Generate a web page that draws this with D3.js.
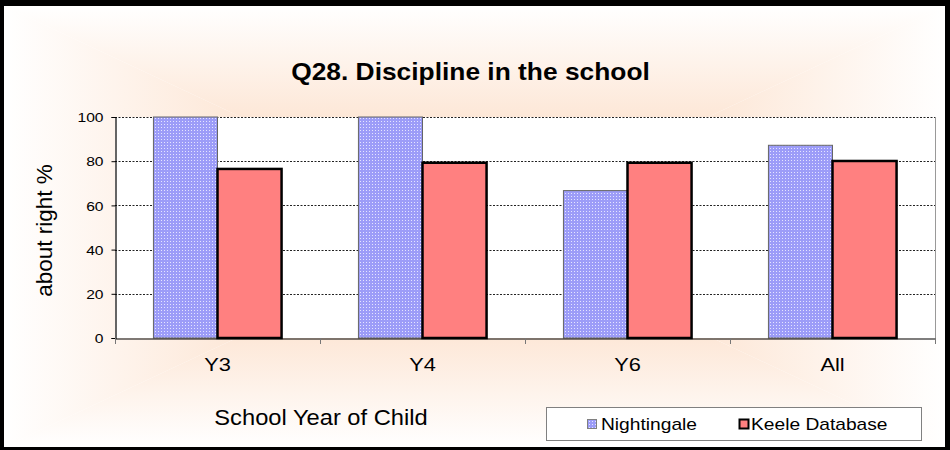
<!DOCTYPE html>
<html>
<head>
<meta charset="utf-8">
<script src="https://cdn.jsdelivr.net/npm/d3@7"></script>
<style>
  html, body { margin: 0; padding: 0; background: #fff; }
  svg { display: block; }
  text { font-family: Arial, "Liberation Sans", sans-serif; fill: #000; }
</style>
</head>
<body>
<script>
const categories = ["Y3", "Y4", "Y6", "All"];
const seriesNames = ["Nightingale", "Keele Database"];
const nightingale = [100, 100, 66.7, 87.2];
const keele = [76.5, 79.3, 79.3, 80.1];
const yTicks = [0, 20, 40, 60, 80, 100];
const titleText = "Q28. Discipline in the school";
const xTitle = "School Year of Child";
const yTitle = "about right %";

(function () {
const W = 950, H = 450;
const svg = d3.select("body").append("svg").attr("width", W).attr("height", H);
const defs = svg.append("defs");

// dotted pattern for Nightingale
const pat = defs.append("pattern").attr("id", "dots").attr("patternUnits", "userSpaceOnUse")
  .attr("width", 3).attr("height", 3);
pat.append("rect").attr("width", 3).attr("height", 3).attr("fill", "#9c9cf8");
pat.append("rect").attr("x", 1).attr("y", 1).attr("width", 1).attr("height", 1).attr("fill", "#e4e4ff");

// frame
svg.append("rect").attr("width", W).attr("height", H).attr("fill", "#000");
const cx0 = 4, cy0 = 6, cx1 = 945, cy1 = 447;
const mx = (cx0 + cx1) / 2, my = (cy0 + cy1) / 2;
svg.append("rect").attr("x", cx0).attr("y", cy0).attr("width", cx1 - cx0).attr("height", cy1 - cy0).attr("fill", "#fff");

// rectangular "from centre" gradient built from four triangles
const centerCol = "#fbd0b0";
const sides = [
  {id: "gT", pts: [[cx0, cy0], [cx1, cy0], [mx, my]], g: [0, 0, 0, 1]},
  {id: "gB", pts: [[cx0, cy1], [cx1, cy1], [mx, my]], g: [0, 1, 0, 0]},
  {id: "gL", pts: [[cx0, cy0], [cx0, cy1], [mx, my]], g: [0, 0, 1, 0]},
  {id: "gR", pts: [[cx1, cy0], [cx1, cy1], [mx, my]], g: [1, 0, 0, 0]}
];
sides.forEach(s => {
  const lg = defs.append("linearGradient").attr("id", s.id)
    .attr("x1", s.g[0]).attr("y1", s.g[1]).attr("x2", s.g[2]).attr("y2", s.g[3]);
  lg.append("stop").attr("offset", 0).attr("stop-color", "#ffffff");
  lg.append("stop").attr("offset", 1).attr("stop-color", centerCol);
  svg.append("path").attr("d", "M" + s.pts.map(p => p.join(",")).join("L") + "Z")
    .attr("fill", `url(#${s.id})`).attr("stroke", "none");
});

// scales
const pl = 115, pr = 935, pt = 117, pb = 338;
const x = d3.scaleBand().domain(categories).range([pl, pr]).paddingInner(0).paddingOuter(0);
const x1 = d3.scaleBand().domain(seriesNames).range([0, x.bandwidth()]).paddingInner(0).paddingOuter(0.6);
const y = d3.scaleLinear().domain([0, 100]).range([pb, pt]);

// plot area
svg.append("rect").attr("x", pl).attr("y", pt).attr("width", pr - pl).attr("height", pb - pt).attr("fill", "#fff");

// gridlines
svg.append("g").selectAll("line").data(yTicks.filter(d => d > 0)).join("line")
  .attr("x1", pl).attr("x2", pr)
  .attr("y1", d => Math.round(y(d)) + 0.5).attr("y2", d => Math.round(y(d)) + 0.5)
  .attr("stroke", "#222").attr("stroke-width", 1).attr("stroke-dasharray", "2,1.5");

// right border of plot
svg.append("line").attr("x1", pr + 0.5).attr("x2", pr + 0.5).attr("y1", pt).attr("y2", pb)
  .attr("stroke", "#999").attr("stroke-width", 1);

// bars
const data = categories.map((c, i) => ({c, vals: [nightingale[i], keele[i]]}));
const grp = svg.append("g").selectAll("g").data(data).join("g")
  .attr("transform", d => `translate(${x(d.c)},0)`);
grp.append("rect")
  .attr("x", x1("Nightingale")).attr("width", x1.bandwidth())
  .attr("y", d => y(d.vals[0])).attr("height", d => y(0) - y(d.vals[0]))
  .attr("fill", "url(#dots)").attr("stroke", "#666").attr("stroke-width", 1);
grp.append("rect")
  .attr("x", x1("Keele Database")).attr("width", x1.bandwidth())
  .attr("y", d => y(d.vals[1])).attr("height", d => y(0) - y(d.vals[1]))
  .attr("fill", "#ff8080").attr("stroke", "#000").attr("stroke-width", 2.5);

// y axis
const yAxis = d3.axisLeft(y).tickValues(yTicks).tickSize(4).tickPadding(0).tickFormat(d3.format("d"));
const yg = svg.append("g").attr("transform", `translate(${pl + 0.5},0)`).call(yAxis);
yg.select(".domain").attr("stroke", "#000").attr("stroke-width", 1.2);
yg.selectAll(".tick line").attr("stroke", "#000");
yg.selectAll(".tick text").remove();
yg.selectAll(".tick").append("text")
  .attr("text-anchor", "end").attr("dy", "0.36em")
  .attr("transform", "translate(-12,0) scale(1.2,1)")
  .style("font-size", "13px").text(d => d);

// x axis
const xAxis = d3.axisBottom(x).tickSize(0).tickPadding(0);
const xg = svg.append("g").attr("transform", `translate(0,${pb + 0.5})`).call(xAxis);
xg.select(".domain").attr("stroke", "#000").attr("stroke-width", 1.2);
xg.selectAll(".tick text").remove();
xg.selectAll(".tick").append("text")
  .attr("text-anchor", "middle")
  .attr("transform", "translate(0,32.5) scale(1.18,1)")
  .style("font-size", "18.5px").text(d => d);
// category boundary tick marks
const bounds = categories.map(c => x(c)).concat([pr]);
svg.append("g").selectAll("line").data(bounds).join("line")
  .attr("x1", d => Math.round(d) + 0.5).attr("x2", d => Math.round(d) + 0.5)
  .attr("y1", pb).attr("y2", pb + 6)
  .attr("stroke", "#777").attr("stroke-width", 1);

// title
svg.append("text").attr("transform", "translate(470.5,79.5) scale(1.146,1)")
  .attr("text-anchor", "middle").style("font-size", "23px").style("font-weight", "bold")
  .text(titleText);

// axis titles
svg.append("text").attr("transform", "translate(321,425) scale(1.077,1)")
  .attr("text-anchor", "middle").style("font-size", "22px").text(xTitle);
svg.append("text").attr("transform", "translate(52,230.5) rotate(-90)")
  .attr("text-anchor", "middle").style("font-size", "22.5px").text(yTitle);

// legend
const lg = svg.append("g");
lg.append("rect").attr("x", 546.5).attr("y", 407.5).attr("width", 375).attr("height", 33)
  .attr("fill", "#fff").attr("stroke", "#808080").attr("stroke-width", 1);
const legX = [587, 739];
const legTextX = [601, 751];
seriesNames.forEach((s, i) => {
  lg.append("rect").attr("x", legX[i] + 0.5).attr("y", 419.5).attr("width", 9).attr("height", 9)
    .attr("fill", i === 0 ? "url(#dots)" : "#ff8080")
    .attr("stroke", i === 0 ? "#808080" : "#000").attr("stroke-width", i === 0 ? 1 : 2);
  lg.append("text").attr("transform", `translate(${legTextX[i]},429.5) scale(1.2,1)`)
    .style("font-size", "16px").text(s);
});
})();
</script>
</body>
</html>
